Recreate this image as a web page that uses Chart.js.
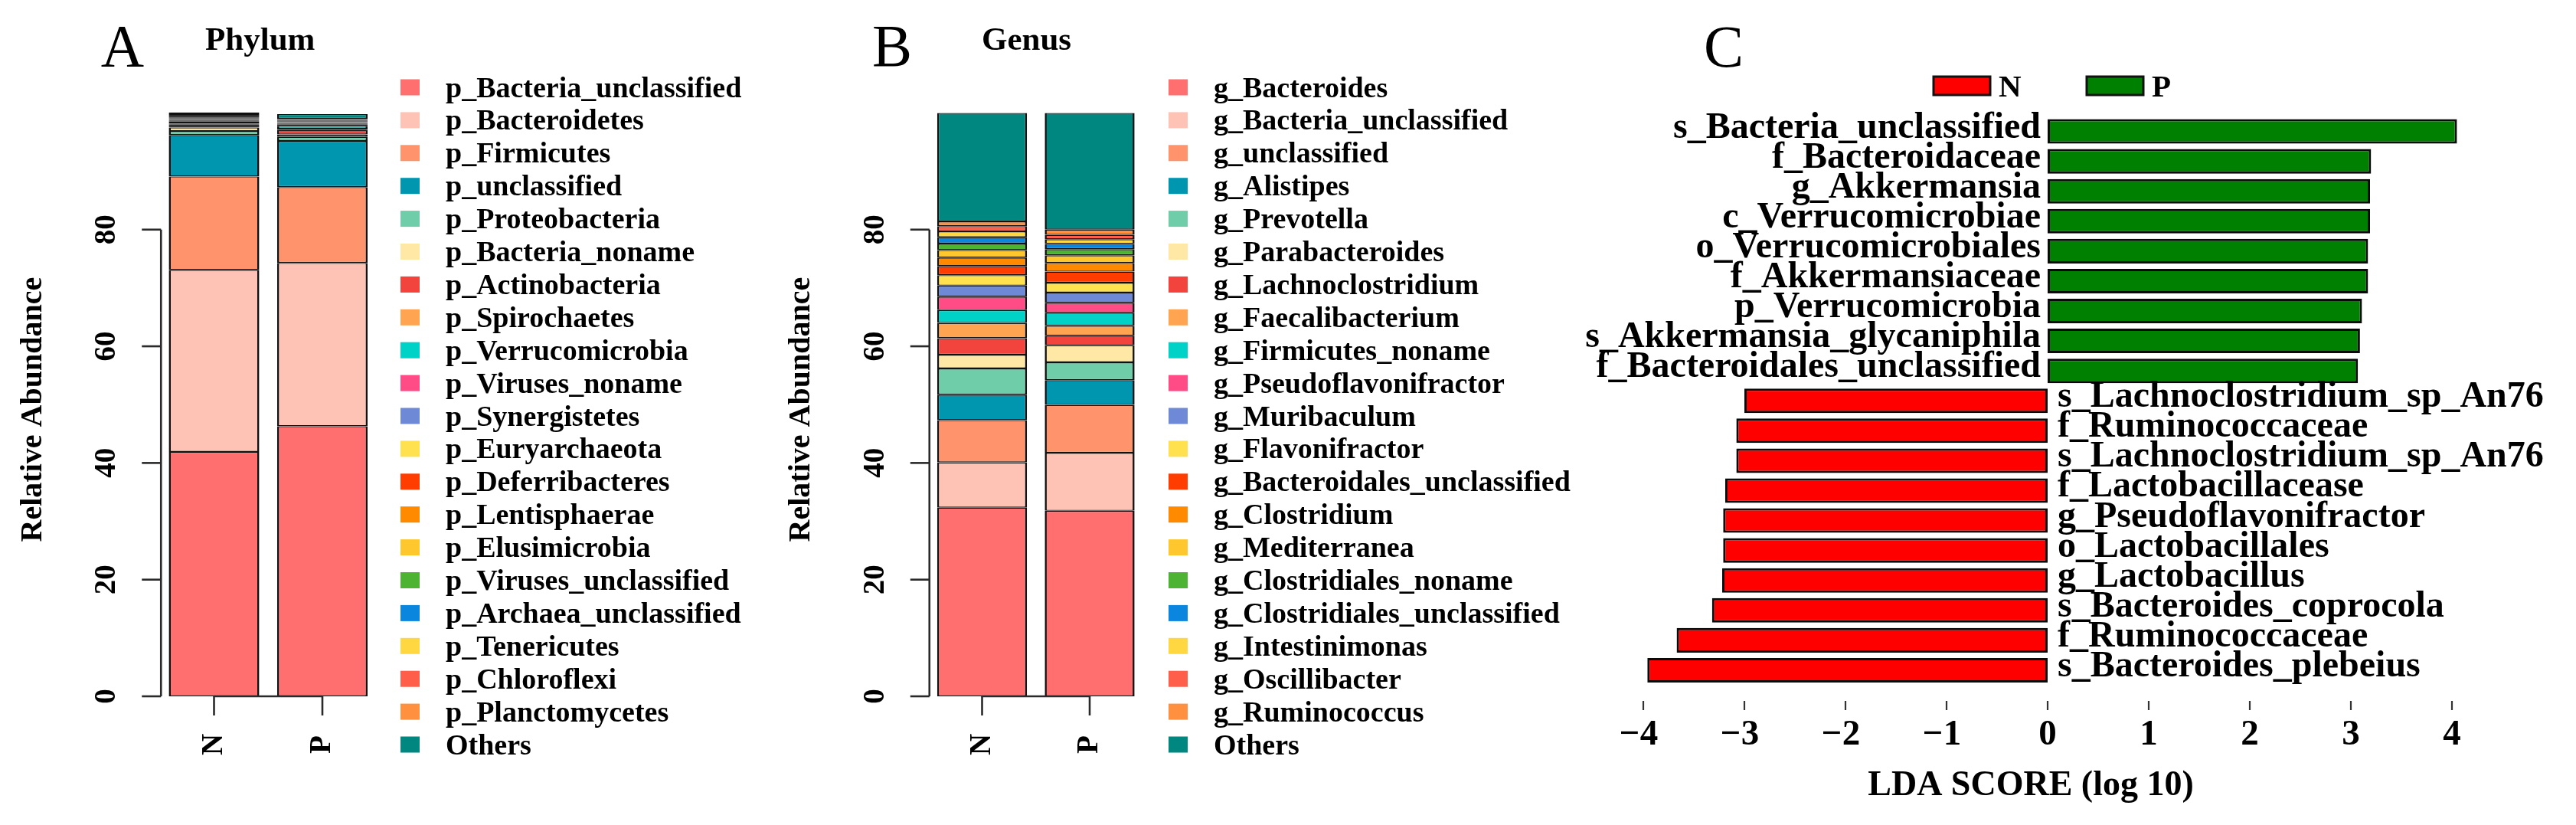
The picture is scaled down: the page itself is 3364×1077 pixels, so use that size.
<!DOCTYPE html>
<html><head><meta charset="utf-8">
<script src="https://cdn.jsdelivr.net/npm/chart.js@4.4.1/dist/chart.umd.min.js"></script>
<style>
html,body{margin:0;padding:0;background:#fff;}
#wrap{position:relative;width:3364px;height:1077px;overflow:hidden;background:#fff;}
canvas{position:absolute;left:0;top:0;}
</style></head><body>
<div id="wrap">
<canvas id="cA" width="3364" height="1077"></canvas>
<canvas id="cB" width="3364" height="1077"></canvas>
<canvas id="cC" width="3364" height="1077"></canvas>
</div>
<script>
// ---------------- DATA ----------------
const groups = ['N', 'P'];

const phylumNames = ['p_Bacteria_unclassified','p_Bacteroidetes','p_Firmicutes','p_unclassified','p_Proteobacteria','p_Bacteria_noname','p_Actinobacteria','p_Spirochaetes','p_Verrucomicrobia','p_Viruses_noname','p_Synergistetes','p_Euryarchaeota','p_Deferribacteres','p_Lentisphaerae','p_Elusimicrobia','p_Viruses_unclassified','p_Archaea_unclassified','p_Tenericutes','p_Chloroflexi','p_Planctomycetes','Others'];
const phylumN = [41.9, 31.2, 16.0, 7.1, 0.7, 0.6, 0.3, 0.2, 0.15, 0.2, 0.15, 0.2, 0.15, 0.1, 0.15, 0.15, 0.15, 0.1, 0.15, 0.15, 0.3];
const phylumP = [46.3, 28.0, 13.0, 7.9, 0.7, 0.4, 0.8, 0.2, 0.5, 0.2, 0.1, 0.1, 0.1, 0.1, 0.1, 0.1, 0.1, 0.1, 0.1, 0.1, 0.8];

const genusNames = ['g_Bacteroides','g_Bacteria_unclassified','g_unclassified','g_Alistipes','g_Prevotella','g_Parabacteroides','g_Lachnoclostridium','g_Faecalibacterium','g_Firmicutes_noname','g_Pseudoflavonifractor','g_Muribaculum','g_Flavonifractor','g_Bacteroidales_unclassified','g_Clostridium','g_Mediterranea','g_Clostridiales_noname','g_Clostridiales_unclassified','g_Intestinimonas','g_Oscillibacter','g_Ruminococcus','Others'];
const genusN = [32.35, 7.75, 7.25, 4.35, 4.5, 2.35, 2.85, 2.6, 2.2, 2.3, 1.9, 1.8, 1.55, 1.45, 1.3, 1.1, 1.1, 1.0, 0.9, 0.8, 18.6];
const genusP = [31.8, 9.95, 8.2, 4.25, 3.05, 2.95, 1.6, 1.7, 2.25, 1.7, 1.75, 1.7, 1.9, 1.5, 1.3, 1.05, 0.9, 0.8, 0.75, 0.9, 20.0];

const abundanceTicks = [0, 20, 40, 60, 80];

const ldaLabels = ['s_Bacteria_unclassified','f_Bacteroidaceae','g_Akkermansia','c_Verrucomicrobiae','o_Verrucomicrobiales','f_Akkermansiaceae','p_Verrucomicrobia','s_Akkermansia_glycaniphila','f_Bacteroidales_unclassified','s_Lachnoclostridium_sp_An76','f_Ruminococcaceae','s_Lachnoclostridium_sp_An76','f_Lactobacillacease','g_Pseudoflavonifractor','o_Lactobacillales','g_Lactobacillus','s_Bacteroides_coprocola','f_Ruminococcaceae','s_Bacteroides_plebeius'];
const ldaScores = [4.05, 3.20, 3.19, 3.19, 3.17, 3.17, 3.11, 3.09, 3.07, -3.00, -3.08, -3.08, -3.19, -3.21, -3.21, -3.22, -3.32, -3.67, -3.96];
const ldaGroup = ['P','P','P','P','P','P','P','P','P','N','N','N','N','N','N','N','N','N','N'];
const ldaTicks = [-4, -3, -2, -1, 0, 1, 2, 3, 4];

// ---------------- STYLE ----------------
const palette = ['#FF6F6F','#FFC3B5','#FF936B','#0096B0','#6FCDAA','#FFE8A6','#F2443C','#FFA552','#00D2C8','#FF4B86','#6E8AD6','#FFE14F','#FF3D00','#FF8A00','#FFC72E','#4DB333','#0A86DF','#FFD740','#FF5E4A','#FF9040','#00877F'];
const groupColors = {N: '#FF0000', P: '#008000'};
const SERIF = '"Liberation Serif", "Times New Roman", serif';
const W = 3364, H = 1077;

function rotText(ctx, txt, x, y, font) {
  ctx.save();
  ctx.translate(x, y);
  ctx.rotate(-Math.PI / 2);
  ctx.font = font;
  ctx.textAlign = 'center';
  ctx.textBaseline = 'middle';
  ctx.fillStyle = '#000';
  ctx.fillText(txt, 0, 0);
  ctx.restore();
}

function stackPanelPlugin(o) {
  return {
    id: 'stackPanel' + o.letter,
    afterDraw(chart) {
      const ctx = chart.ctx, ys = chart.scales.y, xs = chart.scales.x, ca = chart.chartArea;
      ctx.save();
      const x0 = ca.left + 1.5;
      const y0 = ys.getPixelForValue(0);
      ctx.strokeStyle = '#2a2a2a';
      ctx.lineWidth = 2.6;
      // y axis
      ctx.beginPath();
      ctx.moveTo(x0, ys.getPixelForValue(abundanceTicks[0]));
      ctx.lineTo(x0, ys.getPixelForValue(abundanceTicks[abundanceTicks.length - 1]));
      ctx.stroke();
      abundanceTicks.forEach(v => {
        const py = ys.getPixelForValue(v);
        ctx.beginPath(); ctx.moveTo(x0 - 25, py); ctx.lineTo(x0, py); ctx.stroke();
        rotText(ctx, String(v), x0 - 70, py, 'bold 39px ' + SERIF);
      });
      // x axis
      const xp = groups.map((g, i) => xs.getPixelForValue(i));
      ctx.beginPath(); ctx.moveTo(xp[0], y0); ctx.lineTo(xp[xp.length - 1], y0); ctx.stroke();
      groups.forEach((g, i) => {
        ctx.beginPath(); ctx.moveTo(xp[i], y0); ctx.lineTo(xp[i], y0 + 25); ctx.stroke();
        rotText(ctx, g, xp[i], y0 + 63, 'bold 39px ' + SERIF);
      });
      // y label
      rotText(ctx, 'Relative Abundance', x0 - 167, (ca.top + ca.bottom) / 2 + 14, 'bold 40px ' + SERIF);
      // panel letter & title
      ctx.fillStyle = '#000';
      ctx.textBaseline = 'alphabetic';
      ctx.font = '78px ' + SERIF;
      ctx.textAlign = 'center';
      ctx.fillText(o.letter, o.letterX, 86);
      ctx.font = 'bold 43px ' + SERIF;
      ctx.textAlign = 'left';
      ctx.fillText(o.title, o.titleX, 65);
      // legend
      const ds = chart.data.datasets;
      ds.forEach((d, i) => {
        const cy = 114 + i * 42.9;
        ctx.fillStyle = d.backgroundColor;
        ctx.fillRect(o.legX, cy - 10.5, 25, 21);
        ctx.fillStyle = '#000';
        ctx.font = 'bold 38px ' + SERIF;
        ctx.textAlign = 'left';
        ctx.fillText(d.label, o.legX + 59, cy + 12.5);
      });
      ctx.restore();
    }
  };
}

function stackConfig(names, nVals, pVals, area, o) {
  return {
    type: 'bar',
    data: {
      labels: groups,
      datasets: names.map((nm, i) => ({
        label: nm,
        data: [nVals[i], pVals[i]],
        backgroundColor: palette[i],
        borderColor: '#111',
        borderWidth: {top: 1.4, bottom: 1.4, left: 2.6, right: 2.6},
        borderSkipped: false,
        barPercentage: 0.835,
        categoryPercentage: 1
      }))
    },
    options: {
      responsive: false, animation: false, devicePixelRatio: 1,
      layout: {padding: {left: area.left, right: W - area.right, top: area.top, bottom: H - area.bottom}},
      plugins: {legend: {display: false}, tooltip: {enabled: false}},
      scales: {
        x: {stacked: true, display: false},
        y: {stacked: true, display: false, min: 0, max: 102}
      }
    },
    plugins: [stackPanelPlugin(o)]
  };
}

// top of chart area: value 102 -> 909 - 102*7.616
new Chart(document.getElementById('cA'), stackConfig(phylumNames, phylumN, phylumP,
  {left: 208.75, right: 491.75, top: 132.2, bottom: 909},
  {letter: 'A', letterX: 160, title: 'Phylum', titleX: 268, legX: 523}));

new Chart(document.getElementById('cB'), stackConfig(genusNames, genusN, genusP,
  {left: 1212.25, right: 1493.25, top: 132.2, bottom: 909},
  {letter: 'B', letterX: 1165, title: 'Genus', titleX: 1282, legX: 1526}));

// ---------------- PANEL C ----------------
const ldaPlugin = {
  id: 'ldaPanel',
  afterDraw(chart) {
    const ctx = chart.ctx, xs = chart.scales.x, ys = chart.scales.y;
    const x0 = xs.getPixelForValue(0);
    ctx.save();
    ctx.fillStyle = '#000';
    ctx.font = 'bold 48px ' + SERIF;
    ctx.textBaseline = 'alphabetic';
    ldaLabels.forEach((lab, i) => {
      const py = ys.getPixelForValue(i) + 8;
      if (ldaScores[i] >= 0) { ctx.textAlign = 'right'; ctx.fillText(lab, x0 - 9, py); }
      else { ctx.textAlign = 'left'; ctx.fillText(lab, x0 + 13, py); }
    });
    // x ticks
    ctx.strokeStyle = '#333';
    ctx.lineWidth = 2.2;
    ctx.font = 'bold 47px ' + SERIF;
    ctx.textAlign = 'center';
    ldaTicks.forEach(v => {
      const px = xs.getPixelForValue(v);
      ctx.beginPath(); ctx.moveTo(px, 915); ctx.lineTo(px, 927); ctx.stroke();
      const t = v < 0 ? '\u2212' + Math.abs(v) : String(v);
      ctx.fillText(t, px - (v < 0 ? 6 : 0), 972);
    });
    ctx.font = 'bold 46px ' + SERIF;
    ctx.fillText('LDA SCORE (log 10)', 2652, 1038);
    // letter
    ctx.font = '78px ' + SERIF;
    ctx.fillText('C', 2251, 87);
    // legend
    const items = chart.data.datasets;
    const boxX = [2525, 2725];
    items.forEach((d, i) => {
      ctx.fillStyle = d.backgroundColor;
      ctx.fillRect(boxX[i], 100, 74, 24);
      ctx.lineWidth = 3; ctx.strokeStyle = '#111';
      ctx.strokeRect(boxX[i], 100, 74, 24);
      ctx.fillStyle = '#000';
      ctx.font = 'bold 41px ' + SERIF;
      ctx.textAlign = 'left';
      ctx.fillText(d.label, boxX[i] + 85, 126);
    });
    ctx.restore();
  }
};

new Chart(document.getElementById('cC'), {
  type: 'bar',
  data: {
    labels: ldaLabels,
    datasets: groups.map(g => ({
      label: g,
      data: ldaScores.map((v, i) => ldaGroup[i] === g ? v : null),
      backgroundColor: groupColors[g],
      borderColor: '#0a0a0a',
      borderWidth: 3,
      borderSkipped: false,
      barPercentage: 0.82,
      categoryPercentage: 1,
      grouped: false
    }))
  },
  options: {
    indexAxis: 'y',
    responsive: false, animation: false, devicePixelRatio: 1,
    layout: {padding: {left: 2132.8, right: W - 3241.6, top: 152, bottom: H - 894.5}},
    plugins: {legend: {display: false}, tooltip: {enabled: false}},
    scales: {
      x: {display: false, min: -4.1, max: 4.3},
      y: {display: false}
    }
  },
  plugins: [ldaPlugin]
});
</script>
</body></html>
